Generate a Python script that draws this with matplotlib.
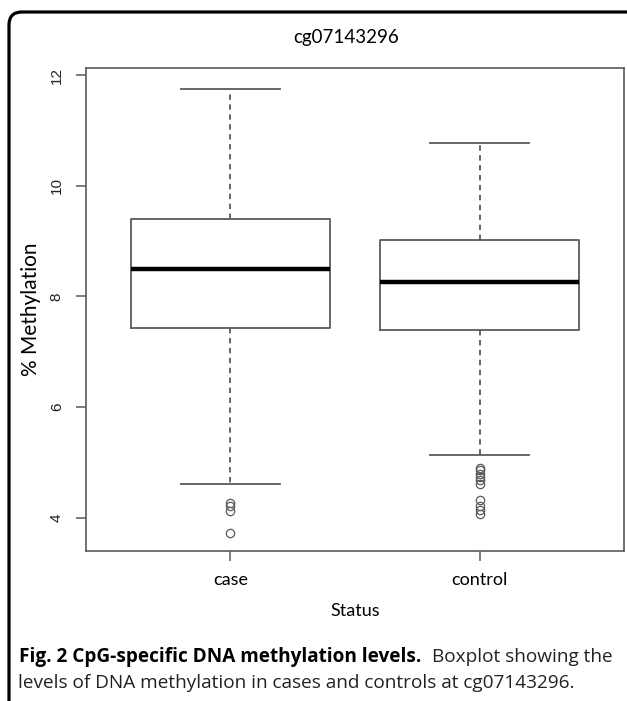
import matplotlib
matplotlib.use("Agg")
import matplotlib.pyplot as plt
from matplotlib.patches import FancyBboxPatch

# values
groups = ["case", "control"]
whislo = [4.62, 5.13]
q1 = [7.43, 7.40]
med = [8.50, 8.27]
q3 = [9.40, 9.02]
whishi = [11.75, 10.78]
outliers_case = [4.27, 4.22, 4.12, 3.72]
outliers_control = [4.90, 4.86, 4.80, 4.74, 4.68, 4.62, 4.33, 4.22, 4.15, 4.07]

W, H = 627, 701
fig = plt.figure(figsize=(W / 100, H / 100), dpi=100)
fig.patch.set_facecolor("white")

# rounded frame, only left and top edges fall inside the image (units: inches)
frame = FancyBboxPatch((0.09, -1.0), 8.0, (H - 12) / 100 + 1.0,
                       boxstyle="round,pad=0,rounding_size=0.13",
                       transform=fig.dpi_scale_trans, fill=False,
                       ec="black", lw=2.3)
fig.patches.append(frame)

ax = fig.add_axes([86 / W, 1 - 551 / H, (624 - 86) / W, (551 - 68) / H])

stats = []
fliers = [outliers_case, outliers_control]
for i, g in enumerate(groups):
    stats.append(dict(label=g, whislo=whislo[i], q1=q1[i], med=med[i], q3=q3[i],
                      whishi=whishi[i], fliers=fliers[i]))

gray = "#5a5a5a"
ax.bxp(stats, positions=[1, 2], widths=0.8, patch_artist=False,
       boxprops=dict(color=gray, lw=1.3),
       medianprops=dict(color="black", lw=3.2, solid_capstyle="butt"),
       whiskerprops=dict(color=gray, lw=1.3, linestyle=(0, (3, 2.5))),
       capprops=dict(color=gray, lw=1.3),
       capwidths=0.4,
       flierprops=dict(marker="o", markerfacecolor="none", markeredgecolor=gray,
                       markersize=6, markeredgewidth=0.9))

ax.set_xlim(0.42, 2.58)
ax.set_ylim(3.40, 12.13)
ax.set_yticks([4, 6, 8, 10, 12])
ax.set_yticklabels(["4", "6", "8", "10", "12"], rotation=90, va="center",
                   fontfamily="Liberation Sans", fontsize=11, color="#222222")
ax.set_xticks([1, 2])
ax.set_xticklabels(groups, fontfamily="Lato", fontsize=13)
for s in ax.spines.values():
    s.set_color(gray)
    s.set_linewidth(1.2)
ax.tick_params(axis="y", length=7, color=gray, width=1.1, pad=9)
ax.tick_params(axis="x", length=7, color=gray, width=1.1, pad=8)

ax.set_ylabel("% Methylation", fontfamily="Lato", fontsize=15, labelpad=6)
ax.set_xlabel("Status", fontfamily="Lato", fontsize=13, labelpad=11)
fig.text(346 / W, 1 - 38 / H, "cg07143296", fontfamily="Lato", fontsize=13.5,
         ha="center", va="center")

# caption
fig.text(19 / W, 1 - 657 / H, "Fig. 2 CpG-specific DNA methylation levels.",
         fontfamily="Open Sans", fontweight="bold", fontsize=13.7, va="center")
fig.text(432 / W, 1 - 657 / H, "Boxplot showing the",
         fontfamily="Open Sans", fontsize=13.7, va="center", color="#222222")
fig.text(18 / W, 1 - 683 / H,
         "levels of DNA methylation in cases and controls at cg07143296.",
         fontfamily="Open Sans", fontsize=13.7, va="center", color="#222222")

fig.savefig("out.png", dpi=100)
